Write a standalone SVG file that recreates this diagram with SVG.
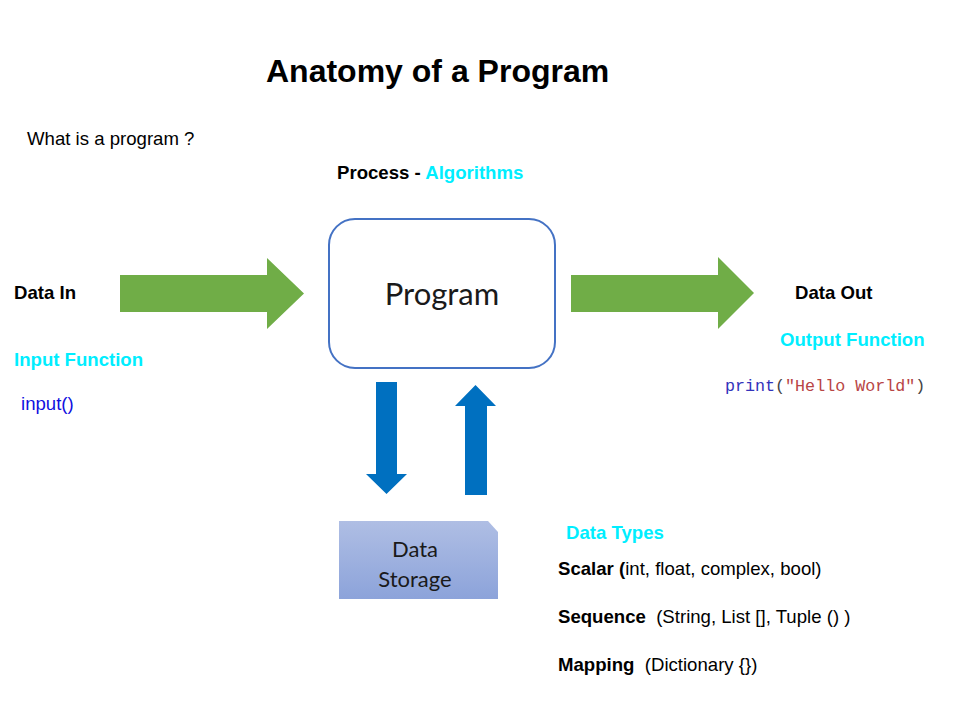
<svg xmlns="http://www.w3.org/2000/svg" width="960" height="720" viewBox="0 0 960 720">
<defs>
<style>
.t{font-family:"Liberation Sans",Arial,sans-serif;font-size:18.6px;fill:#000}
.b{font-weight:bold}
.c{fill:#00EEFF;font-weight:bold}
.cal{font-family:Lato,"Open Sans",sans-serif;fill:#1a1a1a}
.mono{font-family:"Liberation Mono","Courier New",monospace;font-size:16.7px}
.green{fill:#70AD47}
.blue{fill:#0070C0}
</style>
<linearGradient id="ds" x1="0" y1="0" x2="0" y2="1">
<stop offset="0" stop-color="#AFBEE4"/>
<stop offset="1" stop-color="#8CA3DA"/>
</linearGradient>
</defs>
<rect width="960" height="720" fill="#fff"/>
<text x="266" y="82" class="t b" style="font-size:32px">Anatomy of a Program</text>
<text x="27" y="145" class="t">What is a program ?</text>
<text x="337" y="179" class="t b">Process - <tspan class="c">Algorithms</tspan></text>

<g id="program">
<rect x="329" y="219" width="226" height="149" rx="26" ry="26" fill="#fff" stroke="#4472C4" stroke-width="2"/>
<text x="442" y="305" text-anchor="middle" class="cal" font-size="31">Program</text>
</g>

<g id="data-storage">
<path d="M339,521 H488 L498,532 V599 H339 Z" fill="url(#ds)"/>
<text x="415" y="557" text-anchor="middle" class="cal" font-size="22">Data</text>
<text x="415" y="587" text-anchor="middle" class="cal" font-size="22">Storage</text>
</g>

<g id="data-in">
<text x="14" y="299" class="t b">Data In</text>
<text x="14" y="366" class="t c">Input Function</text>
<text x="21" y="410" class="t" style="fill:#1010E0">input()</text>
</g>

<g id="data-out">
<text x="795" y="299" class="t b">Data Out</text>
<text x="780" y="346" class="t c">Output Function</text>
<text x="725" y="391" class="mono"><tspan fill="#3333BB">print</tspan><tspan fill="#444">(</tspan><tspan fill="#B84545">"Hello World"</tspan><tspan fill="#444">)</tspan></text>
</g>

<g id="data-types">
<text x="566" y="539" class="t c">Data Types</text>
<text x="558" y="575" class="t"><tspan class="b">Scalar (</tspan>int, float, complex, bool)</text>
<text x="558" y="623" class="t" xml:space="preserve"><tspan class="b">Sequence</tspan>  (String, List [], Tuple () )</text>
<text x="558" y="671" class="t" xml:space="preserve"><tspan class="b">Mapping</tspan>  (Dictionary {})</text>
</g>

<g id="connectors">
<path class="green" d="M120,275 H267 V258 L304,293.5 L267,329 V312 H120 Z"/>
<path class="green" d="M571,275 H718 V257 L754,293 L718,329 V312 H571 Z"/>
<path class="blue" d="M376,382 H397 V474 H407 L386.5,494 L366,474 H376 Z"/>
<path class="blue" d="M465,495 V406 H455 L475.5,385 L496,406 H487 V495 Z"/>
</g>
</svg>
